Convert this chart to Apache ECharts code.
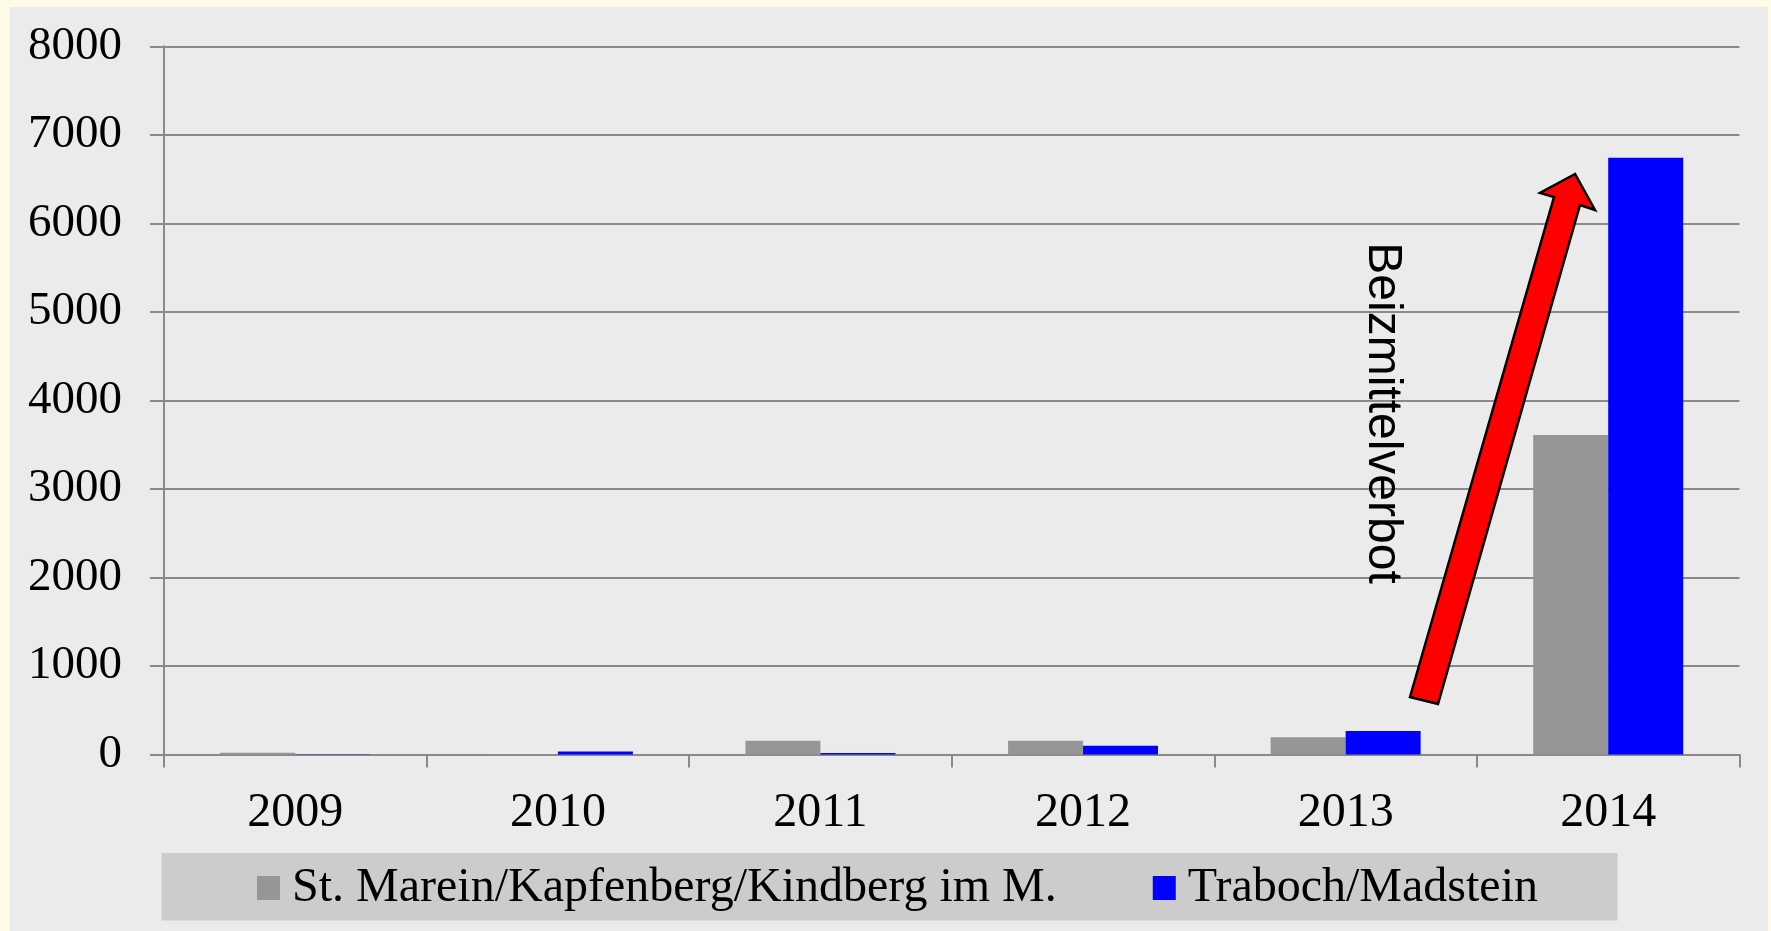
<!DOCTYPE html>
<html>
<head>
<meta charset="utf-8">
<script src="https://cdn.jsdelivr.net/npm/echarts@6/dist/echarts.min.js"></script>
<style>
html,body{margin:0;padding:0;background:#FEFCE6;}
#chart{position:absolute;left:10px;top:7px;width:1758px;height:924px;background:#EBEBEB;}
</style>
</head>
<body>
<div id="chart"></div>
<script>
// Data
const years = ['2009', '2010', '2011', '2012', '2013', '2014'];
const seriesNames = ['St. Marein/Kapfenberg/Kindberg im M.', 'Traboch/Madstein'];
const stMarein = [20, 3, 155, 155, 195, 3610];
const traboch = [2, 35, 18, 100, 265, 6740];
const yTicks = [0, 1000, 2000, 3000, 4000, 5000, 6000, 7000, 8000];
const annotationText = 'Beizmittelverbot';

// chart offset within page: left 10, top 7
const OX = 10, OY = 7;
const chart = echarts.init(document.getElementById('chart'));
const serif = 'Liberation Serif';

chart.setOption({
  backgroundColor: '#EBEBEB',
  animation: false,
  grid: { left: 164 - OX, top: 46.3 - OY, right: 1768 - 1739.5, bottom: 931 - 754.5, containLabel: false },
  legend: {
    data: seriesNames,
    left: 257 - OX,
    top: 864 - OY,
    padding: 0,
    itemGap: 96,
    itemWidth: 23,
    itemHeight: 24,
    icon: 'rect',
    textStyle: { fontFamily: serif, fontSize: 48, color: '#000', lineHeight: 48, padding: [0, 0, 0, 7] }
  },
  xAxis: {
    type: 'category',
    data: years,
    boundaryGap: true,
    axisLine: { lineStyle: { color: '#8A8A8A', width: 2 } },
    axisTick: { show: true, length: 13, lineStyle: { color: '#8A8A8A', width: 2 } },
    axisLabel: { fontFamily: serif, fontSize: 48, color: '#000', margin: 35 }
  },
  yAxis: {
    type: 'value',
    min: yTicks[0], max: yTicks[yTicks.length - 1], interval: yTicks[1] - yTicks[0],
    axisLine: { show: true, lineStyle: { color: '#8A8A8A', width: 2 } },
    axisTick: { show: true, length: 14, lineStyle: { color: '#8A8A8A', width: 2 } },
    splitLine: { show: true, lineStyle: { color: '#8A8A8A', width: 2 } },
    axisLabel: { fontFamily: serif, fontSize: 47, color: '#000', margin: 42, formatter: v => String(v) }
  },
  series: [
    { name: seriesNames[0], type: 'bar', data: stMarein, barWidth: 75, barGap: '0%', itemStyle: { color: '#969696' } },
    { name: seriesNames[1], type: 'bar', data: traboch, barWidth: 75, barGap: '0%', itemStyle: { color: '#0000FF' } }
  ],
  graphic: [
    {
      type: 'rect', z: -10, silent: true,
      shape: { x: 161.5 - OX, y: 853 - OY, width: 1617.5 - 161.5, height: 920.5 - 853 },
      style: { fill: '#CCCCCC' }
    },
    {
      type: 'polygon', z: 100,
      shape: { points: [
        [1575 - OX, 174 - OY], [1540 - OX, 193 - OY], [1554 - OX, 197 - OY],
        [1410 - OX, 697 - OY], [1438 - OX, 704 - OY], [1580 - OX, 205 - OY], [1595 - OX, 210 - OY]
      ] },
      style: { fill: '#FF0000', stroke: '#000', lineWidth: 2.5, lineJoin: 'miter' }
    },
    {
      type: 'text', z: 100,
      x: 1382 - OX, y: 413 - OY, rotation: -Math.PI / 2,
      style: { text: annotationText, x: 0, y: 0, align: 'center', verticalAlign: 'middle',
               fontFamily: 'Liberation Sans', fontSize: 48, fill: '#000' }
    }
  ]
});
</script>
</body>
</html>
